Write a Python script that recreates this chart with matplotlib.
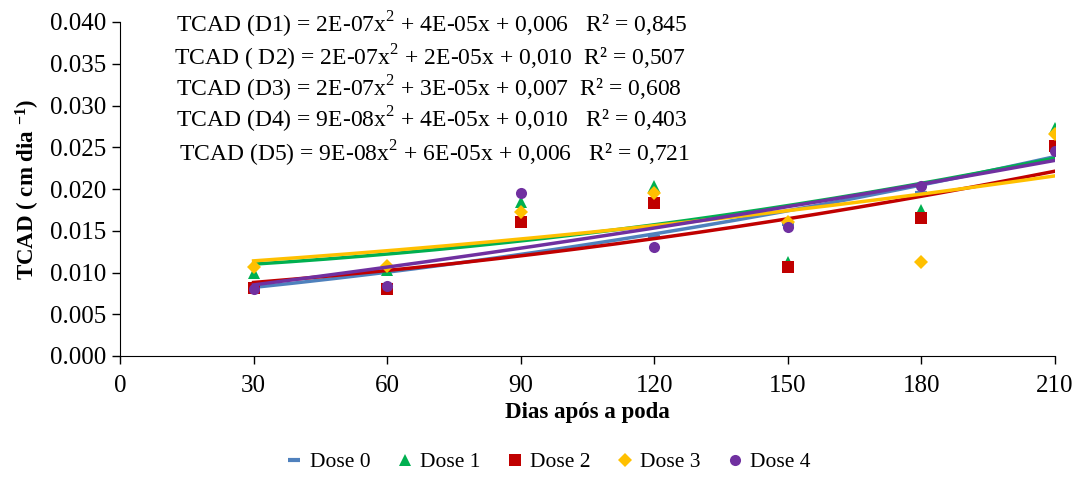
import numpy as np
import matplotlib
matplotlib.use("Agg")
import matplotlib.pyplot as plt

plt.rcParams['font.family'] = ['Liberation Serif', 'DejaVu Serif']
plt.rcParams['mathtext.fontset'] = 'custom'
plt.rcParams['mathtext.rm'] = 'Liberation Serif'
plt.rcParams['mathtext.bf'] = 'Liberation Serif:bold'

# days after pruning
days = [30, 60, 90, 120, 150, 180, 210]

# TCAD values
dose0 = [0.0080, 0.0085, 0.0157, 0.0143, 0.0158, 0.0195, 0.0250]
dose1 = [0.0099, 0.0103, 0.0185, 0.0204, 0.0112, 0.0175, 0.0273]
dose2 = [0.0082, 0.0080, 0.0161, 0.0183, 0.0106, 0.0165, 0.0251]
dose3 = [0.0106, 0.0108, 0.0173, 0.0195, 0.0160, 0.0112, 0.0266]
dose4 = [0.0080, 0.0084, 0.0195, 0.0130, 0.0155, 0.0203, 0.0246]

labels = ['Dose 0', 'Dose 1', 'Dose 2', 'Dose 3', 'Dose 4']
colors = ['#4F81BD', '#00B050', '#C00000', '#FFC000', '#7030A0']
markers = ['_', '^', 's', 'D', 'o']

equations = [
    'TCAD (D1) = 2E-07x$^{2}$ + 4E-05x + 0,006   R² = 0,845',
    'TCAD ( D2) = 2E-07x$^{2}$ + 2E-05x + 0,010  R² = 0,507',
    'TCAD (D3) = 2E-07x$^{2}$ + 3E-05x + 0,007  R² = 0,608',
    'TCAD (D4) = 9E-08x$^{2}$ + 4E-05x + 0,010   R² = 0,403',
    'TCAD (D5) = 9E-08x$^{2}$ + 6E-05x + 0,006   R² = 0,721',
]

series = [dose0, dose1, dose2, dose3, dose4]

fig = plt.figure(figsize=(10.76, 4.97), dpi=100)
ax = fig.add_axes([120/1076, 1 - 356/497, 935/1076, 334/497])

x = np.array(days)
xs = np.linspace(30, 210, 200)
handles = []
for vals, lab, c, m in zip(series, labels, colors, markers):
    y = np.array(vals)
    if m == '_':
        h, = ax.plot(x, y, linestyle='none', marker=m, color=c,
                     markersize=9, markeredgewidth=3, label=lab)
    else:
        ms = 7 if m == 'D' else 8
        h, = ax.plot(x, y, linestyle='none', marker=m, color=c,
                     markersize=ms, markeredgewidth=0, label=lab)
    handles.append(h)
    # 2nd order trend line
    coef = np.polyfit(x, y, 2)
    ax.plot(xs, np.polyval(coef, xs), color=c, linewidth=2.5)

ax.set_xlim(0, 210)
ax.set_ylim(0, 0.040)
ax.set_xticks(np.arange(0, 211, 30))
ax.set_yticks(np.arange(0, 0.0401, 0.005))
ax.set_yticklabels(['%.3f' % v for v in np.arange(0, 0.0401, 0.005)])
ax.tick_params(labelsize=18, direction='out', length=6, width=1)
ax.tick_params(axis='y', pad=4)
ax.tick_params(axis='x', pad=8)
for t in ax.get_xticklabels() + ax.get_yticklabels():
    t.set_fontfamily('Liberation Serif')
ax.spines['top'].set_visible(False)
ax.spines['right'].set_visible(False)

ax.set_xlabel('Dias após a poda', fontsize=16.5, fontweight='bold', labelpad=3)
ax.set_ylabel('TCAD ( cm dia $\\mathbf{^{-1}}$)', fontsize=16.5, fontweight='bold', labelpad=6)

ys = [25, 58, 89, 120, 154]
xs_txt = [176, 174, 176, 176, 179]
for eq, yy, xx in zip(equations, ys, xs_txt):
    fig.text(xx/1076, 1 - yy/497, eq, fontsize=17, va='center', ha='left')

fig.legend(handles=handles, loc='center', bbox_to_anchor=(548/1076, 1 - 462/497),
           ncol=5, frameon=False, fontsize=15.5, handlelength=0.8, handletextpad=0.3,
           columnspacing=1.2)

fig.savefig('out.png', dpi=100)
